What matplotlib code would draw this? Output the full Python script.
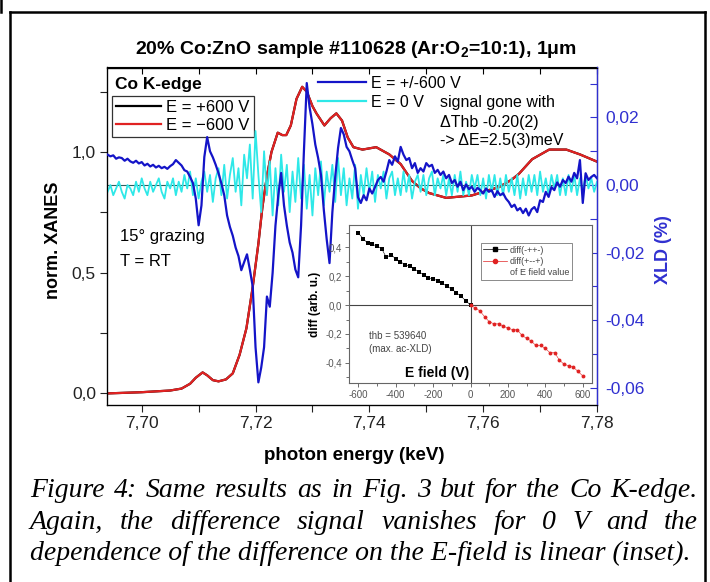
import matplotlib
matplotlib.use("Agg")
import matplotlib.pyplot as plt
import numpy as np
from matplotlib.ticker import MultipleLocator, FuncFormatter
from matplotlib.lines import Line2D

plt.rcParams['font.family'] = 'Liberation Sans'
plt.rcParams['mathtext.fontset'] = 'custom'
plt.rcParams['mathtext.rm'] = 'Liberation Sans'
plt.rcParams['mathtext.bf'] = 'Liberation Sans:bold'
plt.rcParams['mathtext.it'] = 'Liberation Sans:italic'

# ---------------- data ----------------
# XANES (E = -600 V and +600 V lie on top of each other)
xanes_E = [7.6940, 7.7000, 7.7050, 7.7070, 7.7085, 7.7095, 7.7107, 7.7115, 7.7125, 7.7135,
           7.7148, 7.7160, 7.7172, 7.7184, 7.7195, 7.7205, 7.7212, 7.7220, 7.7228, 7.7239,
           7.7247, 7.7254, 7.7262, 7.7272, 7.7282, 7.7290, 7.7300, 7.7307, 7.7321, 7.7332,
           7.7342, 7.7352, 7.7362, 7.7372, 7.7388, 7.7412, 7.7435, 7.7455, 7.7475, 7.7490,
           7.7505, 7.7535, 7.7580, 7.7628, 7.7650, 7.7663, 7.7686, 7.7716, 7.7746, 7.7770,
           7.7800]
xanes_minus600 = [0.000, 0.005, 0.012, 0.020, 0.040, 0.065, 0.087, 0.075, 0.055, 0.050,
                  0.058, 0.083, 0.160, 0.270, 0.440, 0.620, 0.770, 0.900, 1.000, 1.080,
                  1.070, 1.070, 1.110, 1.220, 1.270, 1.250, 1.190, 1.160, 1.110, 1.140,
                  1.160, 1.130, 1.060, 1.020, 1.010, 1.020, 0.990, 0.950, 0.880, 0.850,
                  0.830, 0.810, 0.820, 0.855, 0.885, 0.910, 0.970, 1.010, 1.010, 0.990,
                  0.960]
xanes_plus600 = list(xanes_minus600)

# XLD scan grid (0.5 eV steps)
xld_E = np.linspace(7.694, 7.780, 173)
xld_pm600 = [
    0.0090, 0.0085, 0.0088, 0.0078, 0.0082, 0.0080, 0.0072, 0.0078, 0.0070, 0.0066,
    0.0072, 0.0064, 0.0068, 0.0058, 0.0063, 0.0055, 0.0060, 0.0052, 0.0057, 0.0050,
    0.0054, 0.0048, 0.0056, 0.0062, 0.0074, 0.0066, 0.0058, 0.0044, 0.0040, 0.0024,
    0.0006, -0.0040, -0.0119, -0.0060, 0.0083, 0.0142, 0.0100, 0.0082, 0.0060, 0.0035,
    0.0005, -0.0030, -0.0090, -0.0124, -0.0150, -0.0185, -0.0210, -0.0252, -0.0228, -0.0205,
    -0.0250, -0.0300, -0.0480, -0.0584, -0.0540, -0.0480, -0.0330, -0.0360, -0.0260, -0.0120,
    -0.0030, 0.0036, -0.0060, -0.0120, -0.0170, -0.0200, -0.0250, -0.0273, -0.0120, 0.0100,
    0.0302, 0.0230, 0.0180, 0.0120, 0.0080, 0.0030, -0.0074, -0.0160, -0.0231, -0.0080,
    0.0024, 0.0110, 0.0169, 0.0150, 0.0113, 0.0100, 0.0074, 0.0050, -0.0036, -0.0053,
    -0.0030, -0.0045, -0.0010, -0.0025, -0.0006, 0.0015, 0.0024, 0.0010, 0.0040, 0.0074,
    0.0060, 0.0085, 0.0070, 0.0113, 0.0090, 0.0074, 0.0080, 0.0050, 0.0065, 0.0036,
    0.0050, 0.0040, 0.0065, 0.0055, 0.0060, 0.0036, 0.0045, 0.0030, 0.0040, 0.0020,
    0.0030, 0.0006, 0.0015, -0.0005, 0.0010, -0.0015, 0.0002, -0.0012, -0.0005, -0.0020,
    -0.0008, -0.0015, -0.0025, -0.0010, -0.0020, -0.0015, -0.0035, -0.0018, -0.0030, -0.0024,
    -0.0040, -0.0050, -0.0065, -0.0058, -0.0075, -0.0068, -0.0083, -0.0070, -0.0090, -0.0072,
    -0.0065, -0.0080, -0.0045, -0.0050, -0.0020, -0.0035, -0.0006, -0.0015, 0.0008, -0.0005,
    0.0015, 0.0006, 0.0025, 0.0010, 0.0036, 0.0020, 0.0074, -0.0053, 0.0035, 0.0015,
    0.0024, 0.0030, 0.0020]
xld_0V = [
    -0.002, 0.000, -0.003, -0.001, 0.001, -0.002, -0.004, 0.000, -0.001, -0.003,
    0.001, -0.002, 0.002, -0.001, -0.003, 0.001, -0.002, 0.000, 0.002, -0.002,
    -0.004, 0.001, -0.001, 0.002, -0.003, 0.001, -0.002, 0.003, -0.001, 0.004,
    -0.003, 0.002, -0.004, 0.001, 0.004, -0.002, 0.003, -0.005, 0.002, 0.005,
    -0.003, 0.006, -0.004, 0.003, 0.008, -0.002, 0.005, -0.006, 0.009, 0.002,
    0.012, -0.004, 0.016, 0.003, -0.008, 0.010, -0.003, 0.007, -0.009, 0.005,
    -0.006, 0.009, -0.002, 0.006, -0.008, 0.004, -0.005, 0.008, -0.004, 0.006,
    -0.007, 0.003, -0.009, 0.005, -0.003, 0.007, -0.006, 0.004, -0.002, 0.006,
    -0.005, 0.008, -0.003, 0.005, -0.006, 0.002, -0.004, 0.006, -0.007, 0.003,
    -0.003, 0.005, -0.002, 0.004, -0.005, 0.003, -0.001, 0.004, -0.004, 0.002,
    0.004, -0.003, 0.002, -0.003, 0.004, -0.002, 0.003, -0.004, 0.001, 0.003,
    -0.002, 0.003, -0.003, 0.002, 0.004, -0.003, 0.002, -0.001, 0.003, -0.003,
    0.002, -0.003, 0.003, -0.002, 0.004, -0.003, 0.001, -0.003, 0.003, -0.001,
    0.003, -0.003, 0.002, -0.004, 0.003, -0.002, 0.003, -0.003, 0.002, -0.003,
    0.003, -0.002, 0.002, -0.003, 0.003, -0.004, 0.002, -0.003, 0.003, -0.002,
    0.003, -0.003, 0.004, -0.002, 0.002, -0.003, 0.003, -0.001, 0.003, -0.003,
    0.002, -0.003, 0.003, -0.002, 0.003, -0.003, 0.002, -0.002, 0.003, -0.001,
    0.002, -0.002, 0.001]

# inset: difference vs E field
field_neg = [-600, -575, -550, -525, -500, -475, -450, -425, -400, -375, -350, -325, -300,
             -275, -250, -225, -200, -175, -150, -125, -100, -75, -50, -25, 0]
diff_mppm = [0.50, 0.46, 0.43, 0.42, 0.41, 0.39, 0.33, 0.35, 0.32, 0.30, 0.28, 0.27, 0.25,
             0.23, 0.21, 0.19, 0.18, 0.17, 0.15, 0.13, 0.11, 0.085, 0.06, 0.03, 0.0]
field_pos = [0, 25, 50, 75, 100, 125, 150, 175, 200, 225, 250, 275, 300,
             325, 350, 375, 400, 425, 450, 475, 500, 525, 550, 575, 600]
diff_pmmp = [0.0, -0.02, -0.04, -0.08, -0.115, -0.13, -0.13, -0.145, -0.16, -0.17, -0.17, -0.21, -0.23,
             -0.25, -0.28, -0.28, -0.30, -0.33, -0.33, -0.38, -0.41, -0.42, -0.43, -0.46, -0.49]

caption_lines = [
    "Figure 4: Same results as in Fig. 3 but for the Co K-edge.",
    "Again, the difference signal vanishes for 0 V and the",
    "dependence of the difference on the E-field is linear (inset).",
]

# ---------------- figure ----------------
W, H = 710, 582
fig = plt.figure(figsize=(W / 100, H / 100), dpi=100, facecolor="white")

def fx(px):
    return px / W

def fy(py):
    return 1 - py / H

RED = "#e02222"
BLUE = "#1414c8"
CYAN = "#2ee8e8"
AXBLUE = "#3030d0"

ax = fig.add_axes([fx(107), fy(405), fx(597) - fx(107), fy(67.5) - fy(405)])
ax.plot(xanes_E, xanes_plus600, color="black", lw=1.6)
ax.plot(xanes_E, xanes_minus600, color=RED, lw=1.6)
ax.set_xlim(7.6939, 7.78)
ax.set_ylim(-0.048, 1.350)
ax.xaxis.set_major_locator(MultipleLocator(0.02))
ax.xaxis.set_minor_locator(MultipleLocator(0.01))
ax.yaxis.set_major_locator(MultipleLocator(0.5))
ax.yaxis.set_minor_locator(MultipleLocator(0.25))
ax.xaxis.set_major_formatter(FuncFormatter(lambda v, p: f"{v:.2f}".replace(".", ",")))
ax.yaxis.set_major_formatter(FuncFormatter(lambda v, p: f"{v:.1f}".replace(".", ",")))
ax.tick_params(which="both", direction="out", length=5, width=0.8, labelsize=12.5, pad=3,
               colors="#222222")
ax.tick_params(axis="y", which="both", right=False)
for s in ["left", "bottom", "top"]:
    ax.spines[s].set_linewidth(0.9)
secx = ax.secondary_xaxis("top")
secx.xaxis.set_major_locator(MultipleLocator(0.02))
secx.xaxis.set_minor_locator(MultipleLocator(0.01))
secx.tick_params(which="both", direction="in", length=5, width=0.8, labeltop=False)

ax2 = ax.twinx()
ax2.axhline(0, color="#2b5f60", lw=0.8, zorder=1)
ax2.plot(xld_E, xld_0V, color=CYAN, lw=1.3, zorder=2)
ax2.plot(xld_E, xld_pm600, color=BLUE, lw=1.6, zorder=3)
ax2.set_ylim(-0.0651, 0.0348)
ax2.yaxis.set_major_locator(MultipleLocator(0.02))
ax2.yaxis.set_minor_locator(MultipleLocator(0.01))
ax2.yaxis.set_major_formatter(FuncFormatter(
    lambda v, p: "0,00" if abs(v) < 1e-9 else f"{v:.2f}".replace(".", ",")))
ax2.tick_params(which="both", direction="in", length=5, width=0.8, labelsize=12.5, pad=6,
                colors=AXBLUE)
ax2.spines["right"].set_color(AXBLUE)
ax2.spines["right"].set_linewidth(1.0)

# legends
fig.text(fx(115), fy(85), "Co K-edge", fontsize=12.5, weight="bold", va="center")
leg1 = ax.legend(
    handles=[Line2D([], [], color="black", lw=1.6), Line2D([], [], color=RED, lw=1.6)],
    labels=["E = +600 V", "E = \u2212600 V"],
    loc="upper left", bbox_to_anchor=(fx(112), fy(96)), bbox_transform=fig.transFigure,
    fontsize=12, frameon=True, fancybox=False, edgecolor="#333333", framealpha=1,
    handlelength=2.7, handletextpad=0.3, borderpad=0.25, labelspacing=0.15, borderaxespad=0)
leg1.get_frame().set_linewidth(0.9)
leg2 = ax2.legend(
    handles=[Line2D([], [], color=BLUE, lw=1.6), Line2D([], [], color=CYAN, lw=1.6)],
    labels=["E = +/-600 V", "E = 0 V"],
    loc="upper left", bbox_to_anchor=(fx(318), fy(76)), bbox_transform=fig.transFigure,
    fontsize=11.5, frameon=False, handlelength=3.0, handletextpad=0.3,
    borderpad=0, labelspacing=0.25, borderaxespad=0)

fig.text(fx(440), fy(102), "signal gone with", fontsize=11.5, va="center")
fig.text(fx(440), fy(122), "\u0394Thb -0.20(2)", fontsize=11.5, va="center")
fig.text(fx(440), fy(141), "-> \u0394E=2.5(3)meV", fontsize=11.5, va="center")
fig.text(fx(120), fy(237), "15\u00b0 grazing", fontsize=12, va="center")
fig.text(fx(120), fy(262), "T = RT", fontsize=12, va="center")

# title and axis labels
fig.text(fx(356), fy(49), r"20% Co:ZnO sample #110628 (Ar:O$_\mathbf{2}$=10:1), 1$\mathbf{\mu}$m",
         ha="center", va="center", fontsize=14, weight="bold")
fig.text(fx(354), fy(455), "photon energy (keV)", ha="center", va="center",
         fontsize=13.5, weight="bold")
fig.text(fx(54), fy(240), "norm. XANES", ha="center", va="center", rotation=90,
         fontsize=13, weight="bold")
fig.text(fx(663), fy(250), "XLD (%)", ha="center", va="center", rotation=90,
         fontsize=13, weight="bold", color=AXBLUE)

# ---------------- inset ----------------
axi = fig.add_axes([fx(349), fy(383), fx(592) - fx(349), fy(225) - fy(383)])
axi.set_facecolor("white")
axi.axhline(0, color="#444444", lw=0.8)
axi.axvline(0, color="#444444", lw=0.8)
axi.plot(field_neg, diff_mppm, color="black", lw=0.4, marker="s", ms=2.6, mew=0)
axi.plot(field_pos, diff_pmmp, color=RED, lw=0.4, marker="o", ms=2.8, mew=0)
axi.set_xlim(-650, 650)
axi.set_ylim(-0.54, 0.555)
axi.xaxis.set_major_locator(MultipleLocator(200))
axi.xaxis.set_minor_locator(MultipleLocator(100))
axi.yaxis.set_major_locator(MultipleLocator(0.2))
axi.yaxis.set_minor_locator(MultipleLocator(0.1))
axi.xaxis.set_major_formatter(FuncFormatter(lambda v, p: f"{v:.0f}"))
axi.yaxis.set_major_formatter(FuncFormatter(
    lambda v, p: "0,0" if abs(v) < 1e-9 else f"{v:.1f}".replace(".", ",")))
axi.tick_params(which="both", direction="out", length=3, width=0.6, labelsize=7,
                colors="#555555", pad=2)
axi.tick_params(which="minor", length=2)
for s in axi.spines.values():
    s.set_color("#666666")
    s.set_linewidth(0.8)
axi.set_ylabel("diff (arb. u.)", fontsize=8.5, weight="bold", labelpad=3)
axi.text(-177, -0.47, "E field (V)", ha="center", va="center", fontsize=10, weight="bold")
axi.text(-545, -0.26, "thb = 539640\n(max. ac-XLD)", ha="left", va="center", fontsize=7,
         color="#444444", linespacing=1.3)
leg3 = axi.legend(
    handles=[Line2D([], [], color="black", lw=0.5, marker="s", ms=3),
             Line2D([], [], color=RED, lw=0.5, marker="o", ms=3),
             Line2D([], [], color="none")],
    labels=["diff(-++-)", "diff(+--+)", "of E field value"],
    loc="upper right", bbox_to_anchor=(0.935, 0.915), fontsize=6.5, frameon=True,
    fancybox=False, edgecolor="#777777", framealpha=1, handlelength=2.6,
    handletextpad=0.3, borderpad=0.3, labelspacing=0.25)
leg3.get_frame().set_linewidth(0.6)
for t in leg3.get_texts():
    t.set_color("#444444")

# ---------------- page frame ----------------
for xs, ys in [([10, 10], [582, 12]), ([10, 705], [12, 12]), ([705, 705], [12, 582]),
               ([1, 1], [0, 12])]:
    fig.add_artist(Line2D([fx(x) for x in xs], [fy(y) for y in ys], color="black",
                          lw=1.8, transform=fig.transFigure))

# ---------------- caption (last line sets the size, first two justified) ----------------
fig.canvas.draw()
renderer = fig.canvas.get_renderer()
cap_kw = dict(family="Liberation Serif", style="italic", va="baseline")
probe = fig.text(0, 0, caption_lines[2], fontsize=17, **cap_kw)
cap_size = 17 * 660 / probe.get_window_extent(renderer).width
probe.remove()
for i, (line, base) in enumerate(zip(caption_lines, [497, 529, 560])):
    if i == 2:
        fig.text(fx(30), fy(base), line, fontsize=cap_size, **cap_kw)
        continue
    words = line.split()
    texts = [fig.text(0, fy(base), w, fontsize=cap_size, **cap_kw) for w in words]
    widths = [t.get_window_extent(renderer).width for t in texts]
    gap = (698 - 30 - sum(widths)) / (len(words) - 1)
    x = 30
    for t, w in zip(texts, widths):
        t.set_x(fx(x))
        x += w + gap

fig.savefig("out.png", dpi=100, facecolor="white")
